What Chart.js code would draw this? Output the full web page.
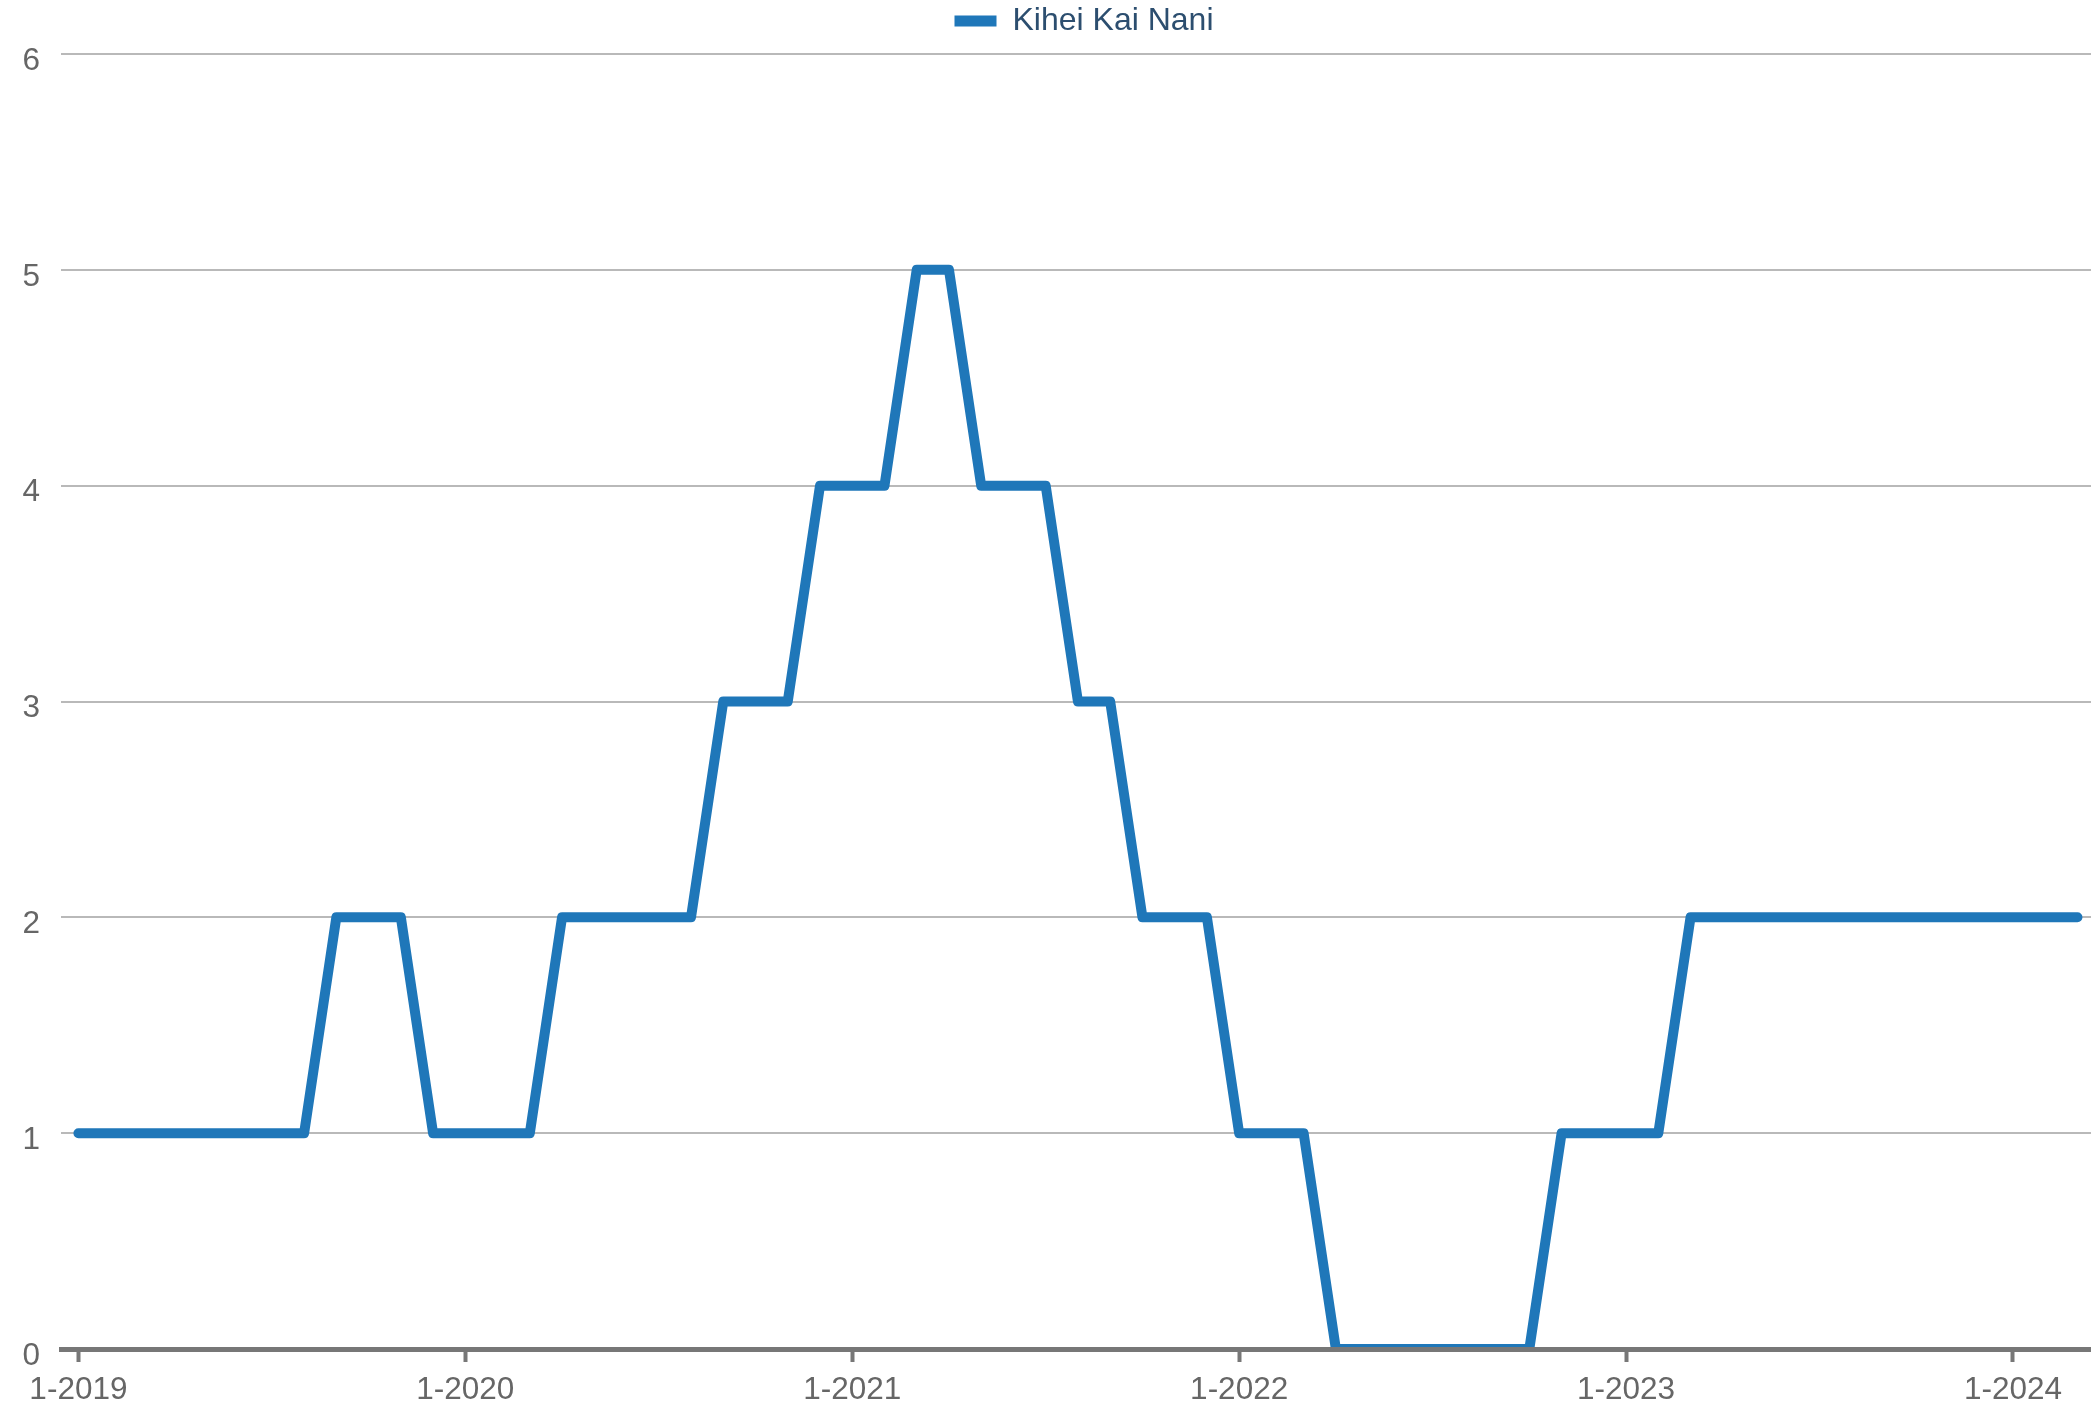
<!DOCTYPE html>
<html>
<head>
<meta charset="utf-8">
<script src="https://cdn.jsdelivr.net/npm/chart.js@4.4.1/dist/chart.umd.min.js"></script>
<style>
  html, body { margin: 0; padding: 0; background: #fff; }
  #wrap { width: 2091px; height: 1410px; }
</style>
</head>
<body>
<div id="wrap"><canvas id="grafica"></canvas></div>
<script>
// meses (M-AAAA) y valores de la serie
const meses = [
    "1-2019","2-2019","3-2019","4-2019","5-2019","6-2019","7-2019","8-2019","9-2019","10-2019","11-2019","12-2019",
    "1-2020","2-2020","3-2020","4-2020","5-2020","6-2020","7-2020","8-2020","9-2020","10-2020","11-2020","12-2020",
    "1-2021","2-2021","3-2021","4-2021","5-2021","6-2021","7-2021","8-2021","9-2021","10-2021","11-2021","12-2021",
    "1-2022","2-2022","3-2022","4-2022","5-2022","6-2022","7-2022","8-2022","9-2022","10-2022","11-2022","12-2022",
    "1-2023","2-2023","3-2023","4-2023","5-2023","6-2023","7-2023","8-2023","9-2023","10-2023","11-2023","12-2023",
    "1-2024","2-2024","3-2024"
];
const serieNombre = "Kihei Kai Nani";
const valores = [
    1,1,1,1,1,1,1,1,2,2,2,1,
    1,1,1,2,2,2,2,2,3,3,3,4,
    4,4,5,5,4,4,4,3,3,2,2,2,
    1,1,1,0,0,0,0,0,0,0,1,1,
    1,1,2,2,2,2,2,2,2,2,2,2,
    2,2,2
];
const ticksY = [0,1,2,3,4,5,6];

const fuente = "'Liberation Sans', Arial, sans-serif";
const puntos = valores.map((v, i) => ({ x: i, y: v }));

// corre un poco la leyenda (arriba y a la derecha)
const moverLeyenda = {
    id: 'moverLeyenda',
    afterLayout(chart) {
        const l = chart.legend;
        if (!l) return;
        l.top -= 7; l.bottom -= 7;
        l.left += 8; l.right += 8;
    }
};

const ctx = document.getElementById("grafica").getContext("2d");

new Chart(ctx, {
    type: 'line',
    data: {
        datasets: [{
            label: serieNombre,
            data: puntos,
            borderColor: '#1f77b9',
            backgroundColor: '#1f77b9',
            borderWidth: 10,
            borderJoinStyle: 'round',
            borderCapStyle: 'round',
            pointRadius: 0,
            tension: 0,
            fill: false
        }]
    },
    plugins: [moverLeyenda],
    options: {
        responsive: true,
        maintainAspectRatio: false,
        animation: false,
        layout: { padding: { left: 0, right: 0, top: 0, bottom: 0 } },
        plugins: {
            legend: {
                display: true,
                position: 'top',
                fullSize: false,
                labels: {
                    boxWidth: 42,
                    boxHeight: 11,
                    color: '#2c4e6f',
                    font: { family: fuente, size: 32 },
                    padding: 12,
                    generateLabels: chart =>
                        Chart.defaults.plugins.legend.labels.generateLabels(chart)
                            .map(l => ({ ...l, lineWidth: 0 }))
                }
            },
            tooltip: { enabled: false }
        },
        scales: {
            x: {
                type: 'linear',
                min: -0.54,
                max: 62.42,
                afterBuildTicks: scale => {
                    scale.ticks = meses
                        .map((m, i) => ({ m, i }))
                        .filter(o => o.m.startsWith("1-"))
                        .map(o => ({ value: o.i }));
                },
                afterFit: scale => { scale.height = 61; },
                ticks: {
                    callback: v => meses[v],
                    color: '#666',
                    font: { family: fuente, size: 31.5 },
                    padding: 9,
                    maxRotation: 0,
                    autoSkip: false
                },
                grid: {
                    drawOnChartArea: false,
                    drawTicks: true,
                    tickLength: 13,
                    tickWidth: 4,
                    tickColor: '#777'
                },
                border: { display: true, color: '#777', width: 5, z: 1 }
            },
            y: {
                min: 0,
                max: 6,
                afterBuildTicks: scale => {
                    scale.ticks = ticksY.map(v => ({ value: v }));
                },
                afterFit: scale => { scale.width = 61; },
                ticks: {
                    color: '#666',
                    font: { family: fuente, size: 31.5 },
                    padding: 21,
                    labelOffset: 7
                },
                grid: {
                    color: '#b9b9b9',
                    lineWidth: 2,
                    drawTicks: false
                },
                border: { display: false }
            }
        }
    }
});
</script>
</body>
</html>
